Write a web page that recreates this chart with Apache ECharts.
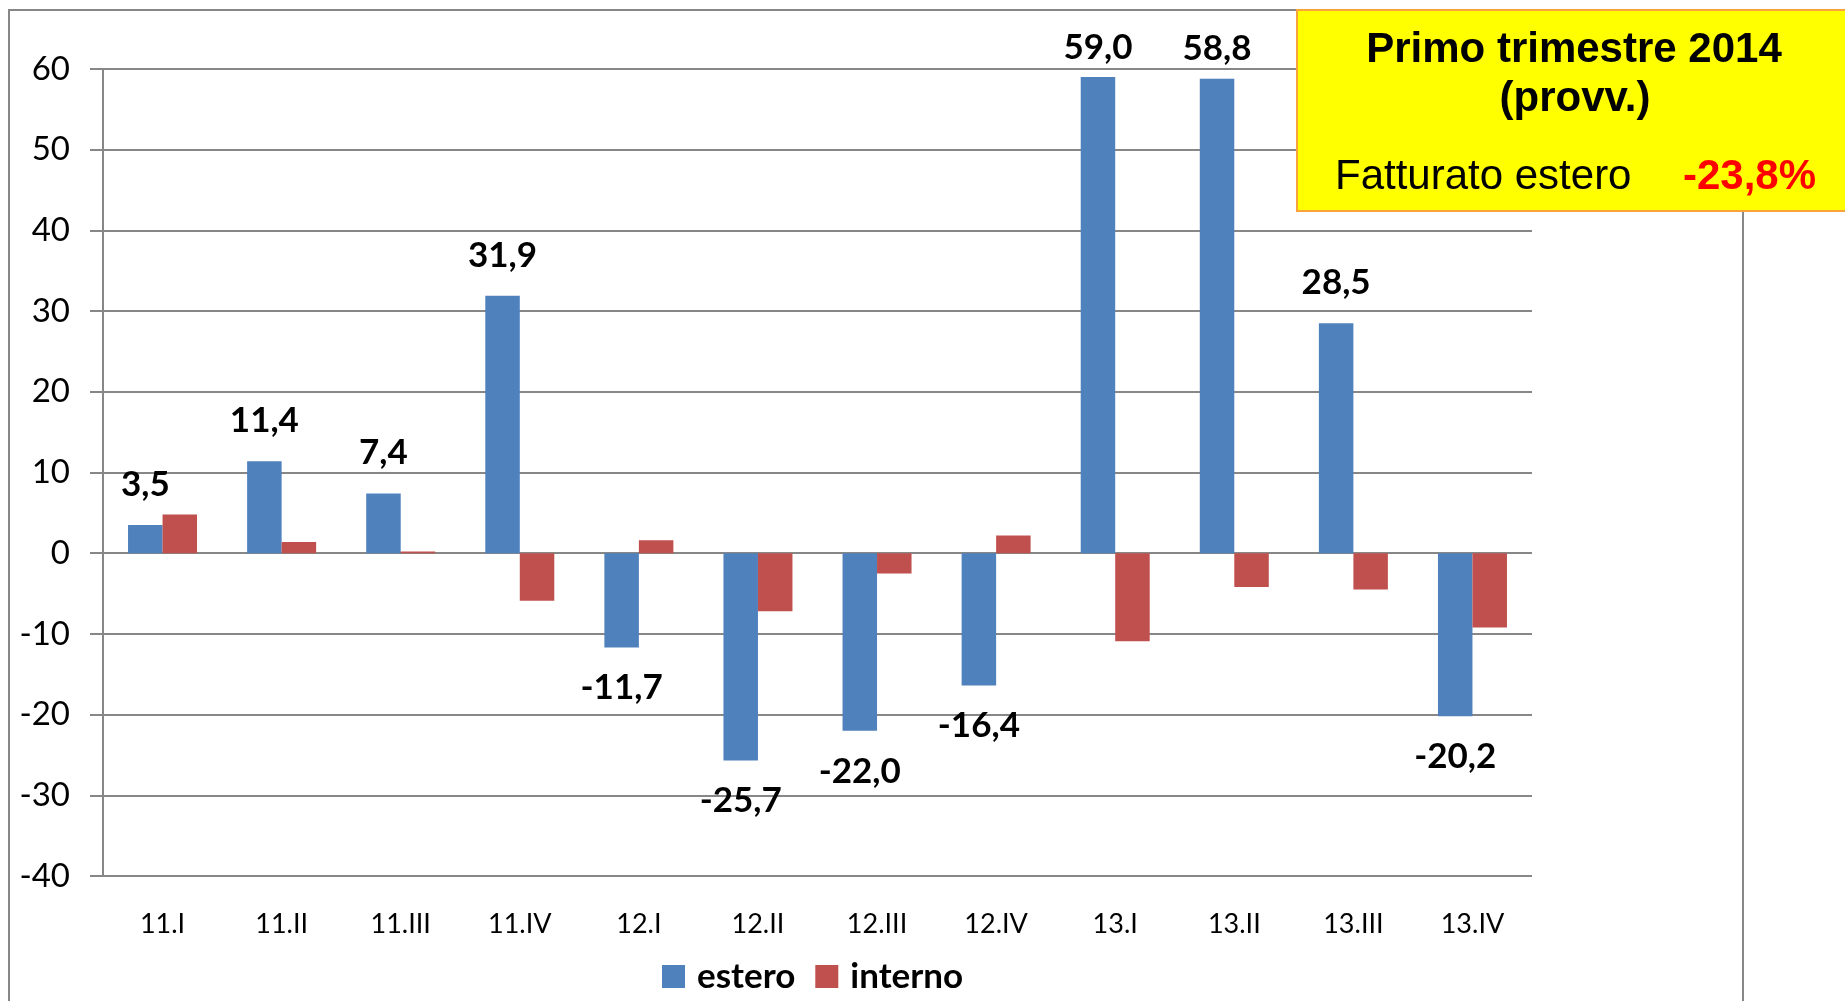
<!DOCTYPE html>
<html>
<head>
<meta charset="utf-8">
<script src="https://cdn.jsdelivr.net/npm/echarts@6/dist/echarts.min.js"></script>
<style>html,body{margin:0;padding:0;background:#fff}#c{width:1845px;height:1001px}</style>
</head>
<body>
<div id="c"></div>
<script>
var categories = ['11.I','11.II','11.III','11.IV','12.I','12.II','12.III','12.IV','13.I','13.II','13.III','13.IV'];
var estero = [3.5, 11.4, 7.4, 31.9, -11.7, -25.7, -22.0, -16.4, 59.0, 58.8, 28.5, -20.2];
var interno = [4.8, 1.4, 0.2, -5.9, 1.6, -7.2, -2.5, 2.2, -10.9, -4.2, -4.5, -9.2];
var yTicks = {min: -40, max: 60, interval: 10};
var boxTitle1 = 'Primo trimestre 2014';
var boxTitle2 = '(provv.)';
var boxLabel = 'Fatturato estero';
var boxValue = '-23,8%';

var fmt = function (v) { return v.toFixed(1).replace('.', ','); };
var gridColor = '#878787';

// labels near the top of the plot are kept inside the chart area (as Excel does)
var esteroData = estero.map(function (v) {
  return { value: v, label: { position: v >= 0 ? 'top' : 'bottom', distance: v > 55 ? 12 : 23 } };
});

var chart = echarts.init(document.getElementById('c'));
chart.setOption({
  animation: false,
  backgroundColor: '#fff',
  grid: { left: 103, right: 313, top: 69, bottom: 125, containLabel: false },
  legend: {
    left: 657, top: 954,
    itemWidth: 23, itemHeight: 23, itemGap: 20,
    icon: 'rect',
    textStyle: { fontFamily: 'Lato', fontWeight: 'bold', fontSize: 35, color: '#000', padding: [0, 0, 0, 7] },
    data: ['estero', 'interno']
  },
  xAxis: {
    type: 'category',
    data: categories,
    axisLine: { show: false, onZero: false },
    axisTick: { show: false },
    axisLabel: { fontFamily: 'Lato', fontSize: 27, color: '#000', margin: 35 },
    splitLine: { show: false }
  },
  yAxis: {
    type: 'value',
    min: yTicks.min, max: yTicks.max, interval: yTicks.interval,
    axisLine: { show: true, lineStyle: { color: gridColor, width: 2 } },
    axisTick: { show: true, length: 13, lineStyle: { color: gridColor, width: 2 } },
    axisLabel: { fontFamily: 'Lato', fontSize: 33, color: '#000', margin: 33 },
    splitLine: { show: true, lineStyle: { color: gridColor, width: 2 } }
  },
  series: [
    {
      name: 'estero', type: 'bar', data: esteroData,
      barWidth: 34.5, barGap: '0%',
      itemStyle: { color: '#4F81BD' },
      label: {
        show: true,
        fontFamily: 'Lato', fontWeight: 'bold', fontSize: 35, color: '#000',
        formatter: function (p) { return fmt(p.value); }
      },
      z: 3
    },
    {
      name: 'interno', type: 'bar', data: interno,
      barWidth: 34.5, barGap: '0%',
      itemStyle: { color: '#C0504D' },
      z: 3
    }
  ],
  graphic: [
    {
      type: 'rect', z: 0, silent: true,
      shape: { x: 9, y: 10, width: 1734, height: 1200 },
      style: { fill: 'none', stroke: gridColor, lineWidth: 2 }
    },
    {
      type: 'rect', z: 100, silent: true,
      shape: { x: 1297, y: 10, width: 600, height: 201 },
      style: { fill: '#FFFF00', stroke: '#F9A33A', lineWidth: 2 }
    },
    {
      type: 'text', z: 101, silent: true, x: 1574, y: 50,
      style: { text: boxTitle1, font: 'bold 42px "Liberation Sans", Arial, sans-serif', fill: '#000', align: 'center', verticalAlign: 'middle' }
    },
    {
      type: 'text', z: 101, silent: true, x: 1575, y: 99,
      style: { text: boxTitle2, font: 'bold 42px "Liberation Sans", Arial, sans-serif', fill: '#000', align: 'center', verticalAlign: 'middle' }
    },
    {
      type: 'text', z: 101, silent: true, x: 1335, y: 177,
      style: { text: boxLabel, font: '42px "Liberation Sans", Arial, sans-serif', fill: '#000', align: 'left', verticalAlign: 'middle' }
    },
    {
      type: 'text', z: 101, silent: true, x: 1683, y: 177,
      style: { text: boxValue, font: 'bold 42px "Liberation Sans", Arial, sans-serif', fill: '#FF0000', align: 'left', verticalAlign: 'middle' }
    }
  ]
});
</script>
</body>
</html>
